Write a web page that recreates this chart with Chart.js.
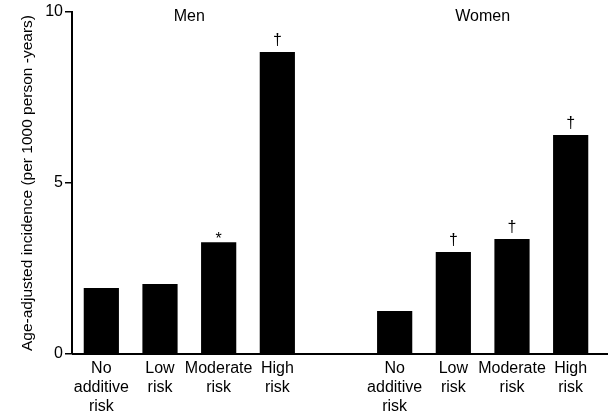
<!DOCTYPE html>
<html>
<head>
<meta charset="utf-8">
<script src="https://cdn.jsdelivr.net/npm/chart.js@4"></script>
<style>
  html, body { margin: 0; padding: 0; background: #fff; }
  #wrap { width: 610px; height: 416px; }
</style>
</head>
<body>
<div id="wrap"><canvas id="incidenceChart"></canvas></div>
<script>
// values
const groupNames = ['Men', 'Women'];
const riskLabels = [['No', 'additive', 'risk'], ['Low', 'risk'], ['Moderate', 'risk'], ['High', 'risk']];
const menIncidence = [1.93, 2.05, 3.27, 8.83];
const womenIncidence = [1.26, 2.98, 3.36, 6.40];
const menMarks = ['', '', '*', '\u2020'];
const womenMarks = ['', '\u2020', '\u2020', '\u2020'];
const yMin = 0;
const yMax = 10;
const yStep = 5;
const yTitle = 'Age-adjusted incidence (per 1000 person -years)';

const FONT = '"Liberation Sans", Arial, Helvetica, sans-serif';

// one empty slot between the two groups
const labels = [...riskLabels, '', ...riskLabels];
const values = [...menIncidence, null, ...womenIncidence];
const marks = [...menMarks, '', ...womenMarks];

const annotations = {
  id: 'annotations',
  afterDatasetsDraw(chart) {
    const ctx = chart.ctx;
    const meta = chart.getDatasetMeta(0);
    const x = chart.scales.x;
    const area = chart.chartArea;
    ctx.save();
    ctx.fillStyle = '#000';
    ctx.textAlign = 'center';

    // significance marks over the bars
    ctx.font = `16px ${FONT}`;
    ctx.textBaseline = 'alphabetic';
    meta.data.forEach((bar, i) => {
      const m = marks[i];
      if (!m || values[i] == null) return;
      const offset = m === '*' ? 2 : -7;
      ctx.fillText(m, bar.x, bar.y + offset);
    });

    // group headings
    ctx.textBaseline = 'middle';
    const n = riskLabels.length;
    ctx.fillText(groupNames[0], x.getPixelForValue((n - 1) / 2), 17);
    ctx.fillText(groupNames[1], x.getPixelForValue(n + 1 + (n - 1) / 2), 17);

    // baseline, running a little past the last bar
    ctx.strokeStyle = '#000';
    ctx.lineWidth = 2;
    ctx.beginPath();
    ctx.moveTo(area.left, area.bottom);
    ctx.lineTo(chart.width - 2, area.bottom);
    ctx.stroke();
    ctx.restore();
  }
};

new Chart(document.getElementById('incidenceChart').getContext('2d'), {
  type: 'bar',
  data: {
    labels: labels,
    datasets: [{
      data: values,
      backgroundColor: '#000',
      borderWidth: 0,
      barPercentage: 0.6,
      categoryPercentage: 1
    }]
  },
  options: {
    responsive: true,
    maintainAspectRatio: false,
    animation: false,
    layout: {
      padding: { top: 12, right: 10, bottom: 0, left: 0 }
    },
    plugins: {
      legend: { display: false },
      tooltip: { enabled: false }
    },
    scales: {
      x: {
        grid: { display: false, drawTicks: false },
        border: { display: false },
        ticks: {
          color: '#000',
          font: { family: FONT, size: 16, lineHeight: 1.2 },
          maxRotation: 0,
          autoSkip: false,
          padding: 5
        },
        afterFit: (scale) => { scale.height = 62; }
      },
      y: {
        min: yMin,
        max: yMax,
        grid: {
          drawOnChartArea: false,
          drawTicks: true,
          tickLength: 7,
          color: '#000',
          lineWidth: 1.5
        },
        border: { display: true, color: '#000', width: 2 },
        ticks: {
          stepSize: yStep,
          color: '#000',
          font: { family: FONT, size: 16 },
          padding: 2
        },
        title: {
          display: true,
          text: yTitle,
          color: '#000',
          font: { family: FONT, size: 15.5 },
          padding: { top: 18, bottom: 0 }
        },
        afterFit: (scale) => { scale.width = 72; }
      }
    }
  },
  plugins: [annotations]
});
</script>
</body>
</html>
